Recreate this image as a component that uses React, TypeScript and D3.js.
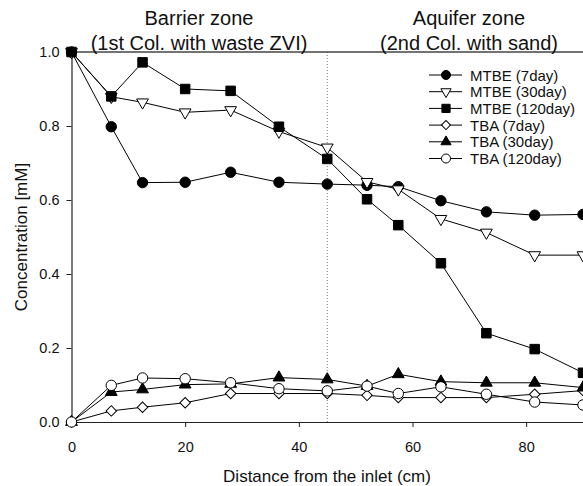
import React, { useEffect, useRef } from 'react';
import * as d3 from 'd3';

// distance from the inlet (cm)
const distances = [0, 7, 12.5, 20, 28, 36.5, 45, 52, 57.5, 65, 73, 81.5, 90];

// concentrations (mM)
const mtbe7 = [1.0, 0.798, 0.647, 0.648, 0.675, 0.648, 0.643, 0.64, 0.636, 0.598, 0.568, 0.559, 0.561];
const mtbe30 = [1.0, 0.879, 0.864, 0.837, 0.843, 0.785, 0.742, 0.649, 0.629, 0.549, 0.512, 0.451, 0.451];
const mtbe120 = [1.0, 0.88, 0.972, 0.9, 0.895, 0.798, 0.711, 0.602, 0.532, 0.429, 0.24, 0.197, 0.133];
const tba7 = [0, 0.03, 0.04, 0.052, 0.077, 0.077, 0.077, 0.072, 0.066, 0.066, 0.066, 0.075, 0.085];
const tba30 = [0, 0.081, 0.088, 0.101, 0.103, 0.12, 0.115, 0.097, 0.129, 0.109, 0.106, 0.106, 0.093];
const tba120 = [0, 0.099, 0.119, 0.117, 0.106, 0.09, 0.084, 0.097, 0.077, 0.095, 0.075, 0.054, 0.046];

const seriesNames = ['MTBE (7day)', 'MTBE (30day)', 'MTBE (120day)', 'TBA (7day)', 'TBA (30day)', 'TBA (120day)'];
const xTicks = [0, 20, 40, 60, 80];
const yTicks = [0, 0.2, 0.4, 0.6, 0.8, 1.0];
const zoneBoundary = 45;

const FONT = '"Liberation Sans", Arial, sans-serif';

const App = () => {
  const ref = useRef(null);

  useEffect(() => {
    const svg = d3.select(ref.current);
    svg.selectAll('*').remove();

    const x = d3.scaleLinear().domain([0, 90]).range([71.5, 583]);
    const y = d3.scaleLinear().domain([0, 1]).range([422, 52]);

    // marker styles, one per series (diamond = square turned 45deg)
    const markers = [
      { shape: d3.symbolCircle, size: 85, fill: 'black', rot: 0 },
      { shape: d3.symbolTriangle, size: 60, fill: 'white', rot: 180 },
      { shape: d3.symbolSquare, size: 90, fill: 'black', rot: 0 },
      { shape: d3.symbolSquare, size: 55, fill: 'white', rot: 45 },
      { shape: d3.symbolTriangle, size: 60, fill: 'black', rot: 0 },
      { shape: d3.symbolCircle, size: 85, fill: 'white', rot: 0 },
    ];
    const data = [mtbe7, mtbe30, mtbe120, tba7, tba30, tba120];

    // dotted boundary between the zones
    svg.append('line')
      .attr('x1', x(zoneBoundary)).attr('x2', x(zoneBoundary))
      .attr('y1', y(1)).attr('y2', y(0))
      .attr('stroke', '#777').attr('stroke-width', 1)
      .attr('stroke-dasharray', '1 2');

    // top frame line
    svg.append('line')
      .attr('x1', 71.5).attr('x2', 583)
      .attr('y1', y(1)).attr('y2', y(1))
      .attr('stroke', '#444').attr('stroke-width', 1.5);

    // axes
    const yAxis = d3.axisLeft(y).tickValues(yTicks).tickFormat(d3.format('.1f'))
      .tickSize(5).tickSizeOuter(0).tickPadding(7);
    const gy = svg.append('g').attr('transform', 'translate(71.5,0)').call(yAxis);
    const xAxis = d3.axisBottom(x).tickValues(xTicks).tickFormat(d3.format('d'))
      .tickSize(5).tickSizeOuter(0).tickPadding(15);
    const gx = svg.append('g').attr('transform', 'translate(0,422)').call(xAxis);
    [gx, gy].forEach(g => {
      g.selectAll('text').attr('font-family', FONT).attr('font-size', 14.5).attr('fill', '#111');
      g.selectAll('line').attr('stroke', '#222');
      g.select('.domain').attr('stroke', '#222').attr('stroke-width', 1.2);
    });

    // series lines then markers
    const line = d3.line().x((d, i) => x(distances[i])).y(d => y(d));
    data.forEach((vals, k) => {
      const m = markers[k];
      svg.append('path')
        .datum(vals)
        .attr('d', line)
        .attr('fill', 'none')
        .attr('stroke', 'black')
        .attr('stroke-width', 1);
      svg.selectAll(`.m${k}`)
        .data(vals)
        .enter()
        .append('path')
        .attr('class', `m${k}`)
        .attr('d', d3.symbol().type(m.shape).size(m.size))
        .attr('transform', (d, i) => `translate(${x(distances[i])},${y(d)}) rotate(${m.rot})`)
        .attr('fill', m.fill)
        .attr('stroke', 'black')
        .attr('stroke-width', 1);
    });

    // legend
    const leg = svg.append('g');
    seriesNames.forEach((name, k) => {
      const m = markers[k];
      const ly = 75 + k * 16.7;
      leg.append('line')
        .attr('x1', 429).attr('x2', 462).attr('y1', ly).attr('y2', ly)
        .attr('stroke', 'black').attr('stroke-width', 1);
      leg.append('path')
        .attr('d', d3.symbol().type(m.shape).size(m.size * 0.75))
        .attr('transform', `translate(446,${ly}) rotate(${m.rot})`)
        .attr('fill', m.fill).attr('stroke', 'black');
      leg.append('text')
        .attr('x', 470).attr('y', ly + 5.5)
        .attr('font-family', FONT).attr('font-size', 15)
        .attr('fill', '#111')
        .text(name);
    });

    // zone headings
    const heads = [
      { cx: 199, lines: ['Barrier zone', '(1st Col. with waste ZVI)'] },
      { cx: 469, lines: ['Aquifer zone', '(2nd Col. with sand)'] },
    ];
    heads.forEach(h => {
      h.lines.forEach((t, i) => {
        svg.append('text')
          .attr('x', h.cx).attr('y', 25 + i * 25)
          .attr('text-anchor', 'middle')
          .attr('font-family', FONT).attr('font-size', 20)
          .attr('fill', '#111')
          .text(t);
      });
    });

    // axis titles
    svg.append('text')
      .attr('x', 327).attr('y', 482)
      .attr('text-anchor', 'middle')
      .attr('font-family', FONT).attr('font-size', 17)
      .attr('fill', '#111')
      .text('Distance from the inlet (cm)');
    svg.append('text')
      .attr('transform', 'translate(27,237) rotate(-90)')
      .attr('text-anchor', 'middle')
      .attr('font-family', FONT).attr('font-size', 17)
      .attr('fill', '#111')
      .text('Concentration [mM]');
  }, []);

  return (
    <svg
      ref={ref}
      width={583}
      height={486}
      style={{ position: 'absolute', left: 0, top: 0, background: 'white' }}
    />
  );
};

export default App;
